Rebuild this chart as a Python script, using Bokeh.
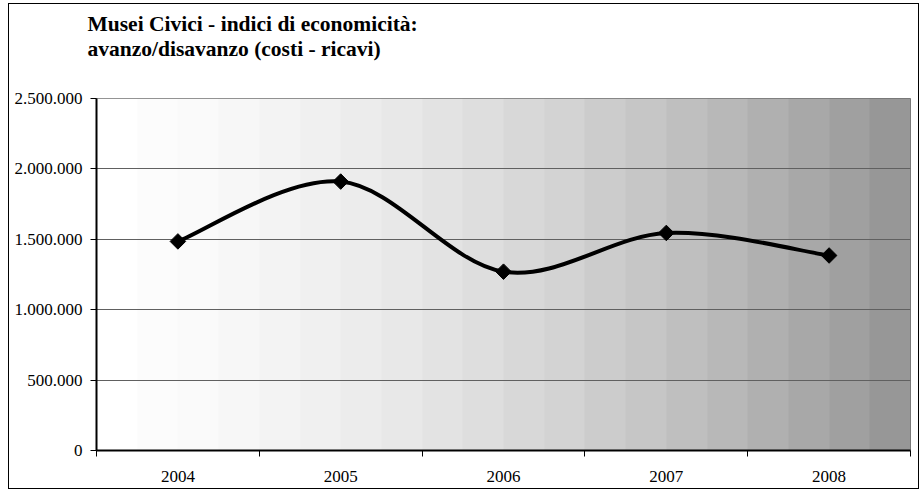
import numpy as np
from bokeh.plotting import figure
from bokeh.models import FixedTicker, Range1d, Title
from bokeh.embed import file_html
from bokeh.resources import INLINE

# ---- data ----
years = ["2004", "2005", "2006", "2007", "2008"]
values = [1485000, 1910000, 1270000, 1545000, 1385000]
y_ticks = [0, 500000, 1000000, 1500000, 2000000, 2500000]
y_tick_labels = ["0", "500.000", "1.000.000", "1.500.000", "2.000.000", "2.500.000"]
title_line1 = "Musei Civici - indici di economicità:"
title_line2 = "avanzo/disavanzo (costi - ricavi)"

FONT = "Liberation Serif"

n = len(years)
xs = np.arange(1, n + 1, dtype=float)
ys = np.array(values, dtype=float)
x_lo, x_hi = 0.5, n + 0.5
y_lo, y_hi = y_ticks[0], y_ticks[-1]

p = figure(width=911, height=486,
           x_range=Range1d(x_lo, x_hi), y_range=Range1d(y_lo, y_hi),
           output_backend="svg", toolbar_location=None,
           min_border_left=87, min_border_right=10,
           min_border_top=94, min_border_bottom=40)
p.styles = {"border": "1px solid black", "margin-left": "8px", "margin-top": "3px"}
p.background_fill_color = "white"
p.border_fill_color = "white"
p.outline_line_color = "#707070"
p.outline_line_width = 1
p.title.text = ""

# ---- title (two lines) with an empty spacer panel between it and the plot ----
p.add_layout(Title(text=" ", text_font_size="10px", standoff=18), "above")
p.add_layout(Title(text=title_line1 + "\n" + title_line2, align="left", offset=-9,
                   standoff=12, text_font=FONT, text_font_style="bold",
                   text_font_size="21.5px", text_line_height=1.06,
                   text_color="black"), "above")

# ---- gradient background (stepped, like the original) ----
nb = 20
t = np.arange(nb) / (nb - 1)
g = np.clip(255 - 38.7 * t - 64.4 * t ** 2, 0, 255).astype(np.uint8)
img = np.empty((1, nb), dtype=np.uint32)
view = img.view(dtype=np.uint8).reshape((1, nb, 4))
view[0, :, 0] = g
view[0, :, 1] = g
view[0, :, 2] = g
view[0, :, 3] = 255
p.image_rgba(image=[img], x=x_lo, y=y_lo, dw=x_hi - x_lo, dh=y_hi - y_lo, level="image")

# ---- smoothed line (Catmull-Rom style Bezier through the points) ----
P = np.column_stack([xs, ys])
Pe = np.vstack([P[0], P, P[-1]])
x0 = []; y0 = []; x1 = []; y1 = []; cx0 = []; cy0 = []; cx1 = []; cy1 = []
for i in range(n - 1):
    prev, a, b, nxt = Pe[i], Pe[i + 1], Pe[i + 2], Pe[i + 3]
    c0 = a + (b - prev) / 6.0
    c1 = b - (nxt - a) / 6.0
    x0.append(a[0]); y0.append(a[1]); x1.append(b[0]); y1.append(b[1])
    cx0.append(c0[0]); cy0.append(c0[1]); cx1.append(c1[0]); cy1.append(c1[1])
p.bezier(x0=x0, y0=y0, x1=x1, y1=y1, cx0=cx0, cy0=cy0, cx1=cx1, cy1=cy1,
         line_color="black", line_width=4)
p.scatter(xs, ys, marker="square", size=11, angle=np.pi / 4,
          fill_color="black", line_color="black")

# ---- axes ----
p.xaxis.ticker = FixedTicker(ticks=list(xs), minor_ticks=list(np.arange(x_lo, x_hi + 0.01, 1.0)))
p.xaxis.major_label_overrides = {int(v): lab for v, lab in zip(xs, years)}
p.xaxis.major_tick_out = 0
p.xaxis.major_tick_in = 0
p.xaxis.minor_tick_out = 6
p.xaxis.minor_tick_in = 0
p.xaxis.minor_tick_line_color = "black"
p.xaxis.major_label_standoff = 14

p.yaxis.ticker = FixedTicker(ticks=y_ticks, minor_ticks=[])
p.yaxis.major_label_overrides = {v: lab for v, lab in zip(y_ticks, y_tick_labels)}
p.yaxis.major_tick_out = 6
p.yaxis.major_tick_in = 0
p.yaxis.minor_tick_out = 0
p.yaxis.minor_tick_in = 0
p.yaxis.major_label_standoff = 8

for ax in (p.xaxis, p.yaxis):
    ax.axis_line_color = "black"
    ax.axis_line_width = 2
    ax.major_tick_line_color = "black"
    ax.major_label_text_font = FONT
    ax.major_label_text_font_size = "17px"
    ax.major_label_text_color = "black"

p.xgrid.visible = False
p.ygrid.ticker = FixedTicker(ticks=y_ticks)
p.ygrid.grid_line_color = "#606060"
p.ygrid.grid_line_width = 1

open("out.html", "w").write(file_html(p, INLINE))
